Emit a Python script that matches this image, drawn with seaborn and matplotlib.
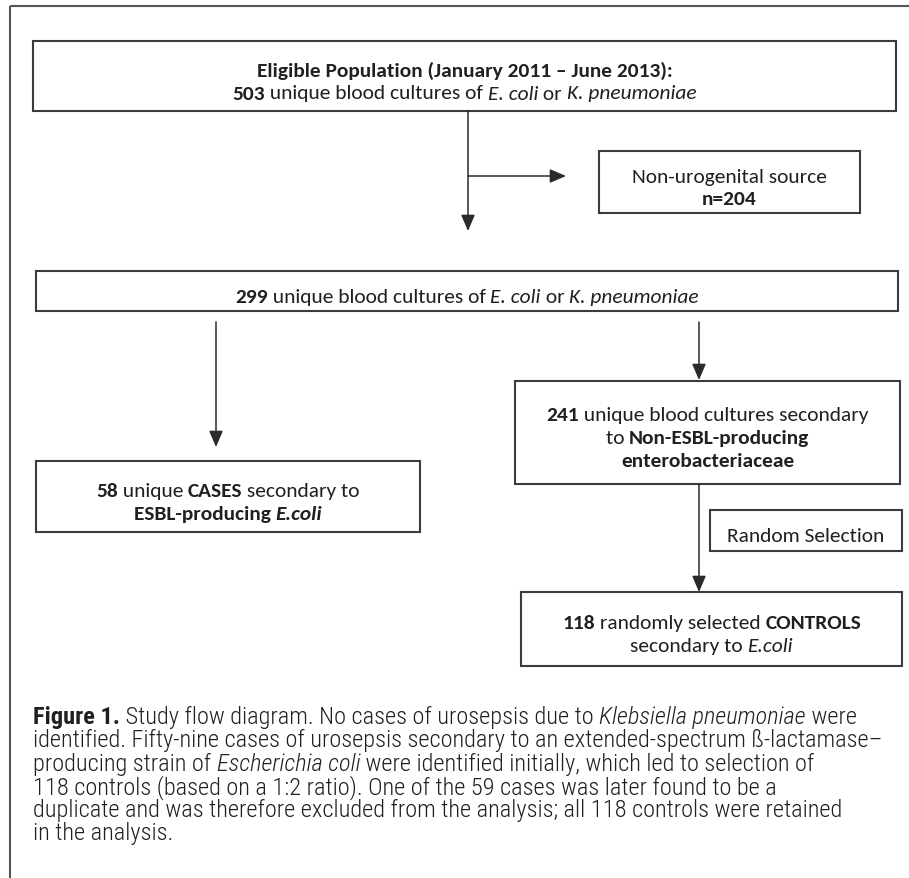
import matplotlib
matplotlib.use("Agg")
import matplotlib.pyplot as plt
import seaborn as sns
from matplotlib import font_manager as fm
from matplotlib.patches import Rectangle

# ---------------- data ----------------
n_eligible = 503
n_nonuro = 204
n_uro = 299
n_nonesbl = 241
n_cases = 58
n_controls = 118
period = "January 2011 \u2013 June 2013"

box_lines = {
    "eligible": [
        [(f"Eligible Population ({period}):", "b")],
        [(f"{n_eligible}", "b"), (" unique blood cultures of ", "r"), ("E. coli", "i"),
         (" or ", "r"), ("K. pneumoniae", "i")],
    ],
    "nonuro": [
        [("Non-urogenital source", "r")],
        [(f"n={n_nonuro}", "b")],
    ],
    "uro": [
        [(f"{n_uro}", "b"), (" unique blood cultures of ", "r"), ("E. coli", "i"),
         (" or ", "r"), ("K. pneumoniae", "i")],
    ],
    "nonesbl": [
        [(f"{n_nonesbl}", "b"), (" unique blood cultures secondary", "r")],
        [("to ", "r"), ("Non-ESBL-producing", "b")],
        [("enterobacteriaceae", "b")],
    ],
    "cases": [
        [(f"{n_cases}", "b"), (" unique ", "r"), ("CASES", "b"), (" secondary to", "r")],
        [("ESBL-producing ", "b"), ("E.coli", "bi")],
    ],
    "random": [
        [("Random Selection", "r")],
    ],
    "controls": [
        [(f"{n_controls}", "b"), (" randomly selected ", "r"), ("CONTROLS", "b")],
        [("secondary to ", "r"), ("E.coli", "i")],
    ],
}

caption_lines = [
    [("Figure 1.", "b"), (" Study flow diagram. No cases of urosepsis due to ", "l"),
     ("Klebsiella pneumoniae", "li"), (" were", "l")],
    [("identified. Fifty-nine cases of urosepsis secondary to an extended-spectrum \u00df-lactamase\u2013", "l")],
    [("producing strain of ", "l"), ("Escherichia coli", "li"),
     (" were identified initially, which led to selection of", "l")],
    [("118 controls (based on a 1:2 ratio). One of the 59 cases was later found to be a", "l")],
    [("duplicate and was therefore excluded from the analysis; all 118 controls were retained", "l")],
    [("in the analysis.", "l")],
]

# ---------------- layout (pixel coordinates) ----------------
W, H = 909, 879
boxes = {  # x0, y0, x1, y1
    "eligible": (33, 42, 896, 112),
    "nonuro": (599, 152, 860, 214),
    "uro": (36, 272, 898, 312),
    "nonesbl": (515, 382, 900, 485),
    "cases": (36, 462, 420, 533),
    "random": (710, 511, 902, 552),
    "controls": (521, 593, 902, 667),
}
line_gap = 23

sns.set_theme(style="white")

installed = {f.name for f in fm.fontManager.ttflist}


def pick(cands, default):
    for c in cands:
        if c in installed:
            return c
    return default


box_family = pick(["Carlito", "Lato"], "DejaVu Sans")
cap_family = pick(["Roboto Condensed", "Liberation Sans Narrow", "Open Sans Condensed",
                   "Noto Sans Condensed", "DejaVu Sans Condensed", "Lato"], "DejaVu Sans")
BOX_FONT = [box_family, "DejaVu Sans"]
CAP_FONT = [cap_family, "DejaVu Sans"]
plt.rcParams["font.family"] = BOX_FONT

TXT = "#231f20"
EDGE = "#3b3b3b"

fig = plt.figure(figsize=(W / 100, H / 100), dpi=100)
ax = fig.add_axes([0, 0, 1, 1])
ax.set_xlim(0, W)
ax.set_ylim(H, 0)
ax.axis("off")
renderer = fig.canvas.get_renderer()

STY = {"r": ("normal", "normal"), "b": ("bold", "normal"),
       "i": ("normal", "italic"), "bi": ("bold", "italic"),
       "l": ("light", "normal"), "li": ("light", "italic")}


def seg_width(text, sty, fs, fam):
    w, st = STY[sty]
    t1 = ax.text(0, 0, text + "|", fontsize=fs, fontweight=w, fontstyle=st, family=fam)
    t2 = ax.text(0, 0, "|", fontsize=fs, fontweight=w, fontstyle=st, family=fam)
    a = t1.get_window_extent(renderer).width - t2.get_window_extent(renderer).width
    t1.remove(); t2.remove()
    return a


def rich_line(x, y, segs, fs, fam, ha="center"):
    widths = [seg_width(t, s, fs, fam) for t, s in segs]
    total = sum(widths)
    cx = x - total / 2 if ha == "center" else x
    for (t, s), w in zip(segs, widths):
        wt, st = STY[s]
        ax.text(cx, y, t, fontsize=fs, fontweight=wt, fontstyle=st, family=fam,
                color=TXT, ha="left", va="center_baseline")
        cx += w


# fit fonts to widths measured in the reference
box_fs = 14 * 196 / seg_width("Non-urogenital source", "r", 14, BOX_FONT)
cap_fs = 14 * 825 / sum(seg_width(t, s, 14, CAP_FONT) for t, s in caption_lines[0])

# outer frame
ax.plot([10, 10], [7, H], color="#555555", lw=1.5, solid_capstyle="butt")
ax.plot([10, W], [7, 7], color="#555555", lw=1.5, solid_capstyle="butt")

for key, (x0, y0, x1, y1) in boxes.items():
    ax.add_patch(Rectangle((x0, y0), x1 - x0, y1 - y0, fill=False, ec=EDGE, lw=1.5))
    lines = box_lines[key]
    cy = (y0 + y1) / 2
    n = len(lines)
    for i, segs in enumerate(lines):
        yy = cy + (i - (n - 1) / 2) * line_gap + 4
        rich_line((x0 + x1) / 2, yy, segs, box_fs, BOX_FONT)


def arrow(x0, y0, x1, y1):
    ax.annotate("", xy=(x1, y1), xytext=(x0, y0),
                arrowprops=dict(arrowstyle="-|>,head_length=0.7,head_width=0.3",
                                color="#2b2b2b", lw=1.1, shrinkA=0, shrinkB=0,
                                mutation_scale=14))


arrow(468, 112, 468, 232)
arrow(468, 177, 566, 177)
arrow(216, 323, 216, 448)
arrow(699, 323, 699, 381)
arrow(699, 485, 699, 593)

for i, segs in enumerate(caption_lines):
    rich_line(33, 715 + i * 23.3, segs, cap_fs, CAP_FONT, ha="left")

fig.savefig("out.png", dpi=100)
